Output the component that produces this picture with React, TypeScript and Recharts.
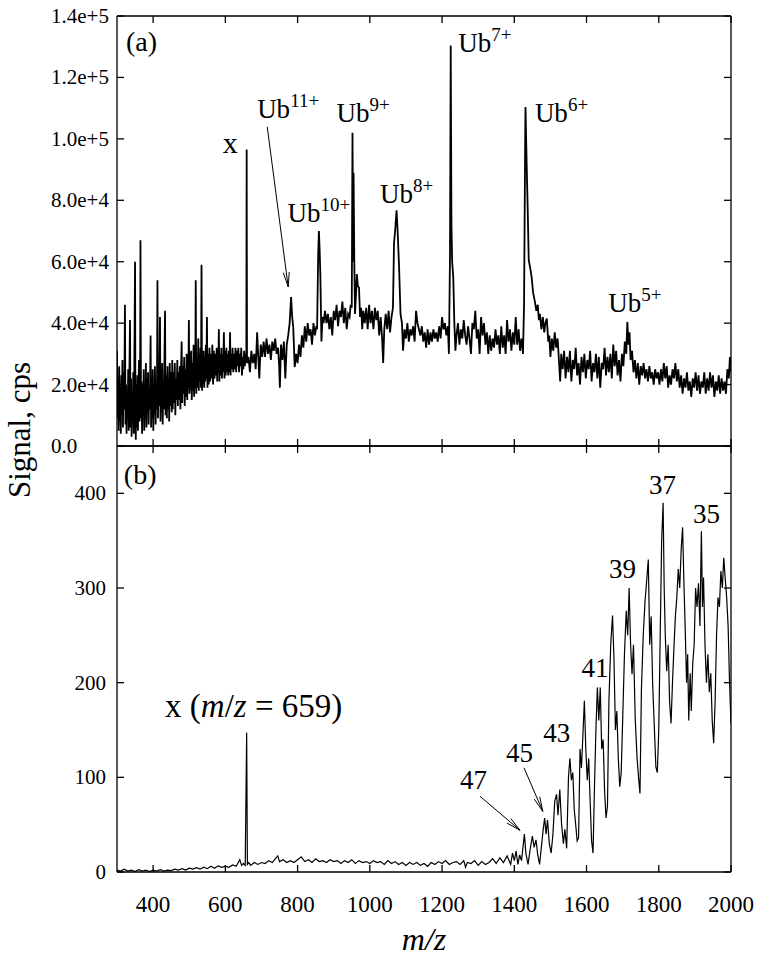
import React from 'react';
import { LineChart, Line, XAxis, YAxis, ReferenceDot, ReferenceLine } from 'recharts';

const FONT = '"Liberation Serif", "Times New Roman", Times, serif';

const mzTicks = [400, 600, 800, 1000, 1200, 1400, 1600, 1800, 2000];
const signalTicksA = [0, 20000, 40000, 60000, 80000, 100000, 120000, 140000];
const signalTicksB = [0, 100, 200, 300, 400];

// panel (a) full spectrum: [m/z, signal in cps]
const spectrumA: [number, number][] = [
  [300, 31000], [301.5, 9000], [303, 22000], [304.5, 5000], [306, 26000], [307.5, 8000], [309, 19000],
  [310.5, 4000], [312, 23000], [313.5, 10000], [315, 28000], [316.5, 6000], [318, 24000], [320, 12000],
  [322, 46000], [323.5, 7000], [325, 20000], [326.5, 4000], [328, 17000], [329.5, 9000], [331, 25000],
  [332.5, 5000], [334, 20000], [336, 41000], [337.5, 6000], [339, 22000], [340.5, 3000], [342, 18000],
  [343.5, 8000], [345, 24000], [346.5, 4000], [348, 26000], [350, 60000], [351, 12000], [352, 2000],
  [353.5, 20000], [355, 6000], [356.5, 23000], [358, 5000], [359.5, 19000], [361, 28000], [362.5, 8000],
  [364, 24000], [365, 67000], [366.5, 9000], [368, 21000], [369.5, 4000], [371, 20000], [372.5, 10000],
  [374, 25000], [375.5, 5000], [377, 16000], [378.5, 9000], [380, 27000], [381.5, 6000], [383, 22000],
  [384.5, 11000], [386, 24000], [387.5, 7000], [389, 17000], [391, 12000], [393, 36000], [394.5, 6000],
  [396, 20000], [397.5, 9000], [399, 25000], [400.5, 5000], [402, 18000], [403.5, 10000], [405, 26000],
  [407, 7000], [409, 21000], [410.5, 12000], [412, 54000], [413.5, 9000], [415, 24000], [417, 13000],
  [419, 42000], [420.5, 8000], [422, 22000], [423.5, 11000], [425, 27000], [426.5, 7000], [428, 20000],
  [429.5, 12000], [431, 25000], [433, 44000], [434.5, 10000], [436, 23000], [438, 9000], [440, 26000],
  [441.5, 12000], [443, 22000], [444.5, 8000], [446, 27000], [448, 13000], [450, 24000], [451.5, 11000],
  [453, 28000], [454.5, 12000], [456, 24000], [458, 14000], [460, 27000], [461.5, 10000], [463, 22000],
  [465, 15000], [467, 28000], [468.5, 13000], [470, 24000], [472, 15000], [474, 26000], [475.5, 12000],
  [477, 23000], [479, 34000], [480.5, 14000], [482, 26000], [484, 17000], [486, 29000], [487.5, 13000],
  [489, 25000], [491, 16000], [493, 30000], [494.5, 15000], [496, 27000], [497.5, 19000], [499, 41000],
  [500.5, 17000], [502, 28000], [503.5, 18000], [505, 31000], [507, 15000], [509, 27000], [510.5, 18000],
  [512, 33000], [513.5, 16000], [515, 29000], [516.5, 19000], [518, 54000], [519.5, 17000], [521, 29000],
  [523, 19000], [525, 35000], [526.5, 18000], [528, 30000], [529.5, 21000], [531, 32000], [532.5, 19000],
  [534, 59000], [535.5, 18000], [537, 29000], [538.5, 20000], [540, 31000], [541.5, 19000], [543, 29000],
  [544.5, 21000], [546, 33000], [547.5, 22000], [549, 42000], [550.5, 19000], [552, 30000], [554, 20000],
  [556, 32000], [558, 21000], [560, 30000], [562, 22000], [564, 33000], [566, 20000], [568, 31000],
  [570, 22000], [572, 30000], [574, 23000], [576, 32000], [577.5, 21000], [579, 31000], [580.5, 24000],
  [582, 38000], [583.5, 21000], [585, 30000], [587, 23000], [589, 32000], [590.5, 22000], [592, 30000],
  [594, 24000], [596, 37000], [597.5, 22000], [599, 31000], [601, 23000], [603, 32000], [604.5, 24000],
  [606, 30000], [608, 23000], [610, 31000], [611.5, 24000], [613, 37000], [614.5, 23000], [616, 30000],
  [618, 25000], [620, 32000], [622, 24000], [624, 30000], [626, 25000], [628, 32000], [630, 24000],
  [632, 31000], [634, 26000], [636, 32000], [638, 24000], [640, 30000], [642, 26000], [644, 32000],
  [646, 23000], [648, 29000], [650, 25000], [652, 31000], [654, 26000], [656, 30000], [658, 27000],
  [659, 96500], [660, 27000], [664, 29000], [668, 24000], [672, 31000], [676, 27000], [680, 30000],
  [684, 25000], [688, 37000], [692, 27000], [694, 22000], [698, 33000], [702, 29000], [706, 34000],
  [710, 29000], [714, 35000], [718, 30000], [722, 33000], [726, 28000], [730, 34000], [734, 31000],
  [738, 35000], [742, 30000], [746, 32000], [749, 26000], [751, 19000], [754, 33000], [758, 28000],
  [762, 34000], [766, 22000], [770, 33000], [774, 36000], [778, 40000], [782, 48500], [785, 42000],
  [788, 38700], [792, 25700], [796, 30000], [800, 27000], [804, 33000], [808, 29000], [812, 36000],
  [816, 32000], [820, 39000], [824, 34000], [828, 40000], [832, 36000], [836, 38000], [840, 33000],
  [844, 40000], [848, 36000], [852, 39000], [854, 38000], [857, 62000], [859, 70000], [861, 64000],
  [863, 56000], [866, 34000], [869, 42000], [872, 40000], [876, 44000], [880, 40000], [884, 43000],
  [888, 38000], [892, 42000], [896, 36000], [900, 44000], [904, 41000], [908, 46000], [912, 39000],
  [916, 44000], [920, 42000], [924, 47000], [928, 40000], [932, 45000], [936, 38000], [940, 43000],
  [944, 42000], [947, 46000], [950, 45000], [952, 102000], [954, 60000], [955, 89000], [957, 60000],
  [959, 43000], [962, 50000], [964, 56000], [967, 52000], [970, 51600], [973, 42000], [976, 45000],
  [979, 38000], [982, 44000], [986, 40000], [990, 45000], [994, 38000], [998, 46000], [1002, 40000],
  [1006, 44000], [1010, 38000], [1014, 45000], [1018, 41000], [1022, 44000], [1026, 36000], [1030, 42000],
  [1034, 35000], [1037, 27000], [1040, 38000], [1044, 43000], [1048, 38000], [1052, 44000], [1056, 37000],
  [1060, 42000], [1064, 45000], [1067, 66000], [1070, 70000], [1074, 76700], [1077, 70000], [1081, 58300],
  [1085, 43000], [1089, 40000], [1092, 31000], [1096, 38000], [1100, 35000], [1104, 40000], [1108, 34000],
  [1112, 38000], [1116, 36000], [1120, 39000], [1124, 34000], [1128, 44000], [1132, 40000], [1136, 38000],
  [1140, 36000], [1144, 39000], [1148, 34000], [1152, 37000], [1156, 32000], [1160, 38000], [1164, 33000],
  [1168, 37000], [1172, 34000], [1176, 38000], [1180, 35000], [1184, 37000], [1188, 34000], [1192, 39000],
  [1196, 35000], [1200, 42000], [1204, 38000], [1208, 40000], [1212, 36000], [1216, 39000], [1219, 30000],
  [1222, 62000], [1224, 130400], [1226, 72000], [1228, 60000], [1231, 55000], [1234, 40000], [1237, 31000],
  [1240, 36000], [1244, 40000], [1248, 33000], [1252, 38000], [1256, 35000], [1260, 41000], [1264, 36000],
  [1268, 33000], [1272, 39000], [1276, 35000], [1280, 30000], [1284, 40000], [1288, 38000], [1292, 44000],
  [1296, 35000], [1300, 38000], [1304, 30000], [1308, 42000], [1312, 36000], [1316, 40000], [1320, 33000],
  [1324, 37000], [1328, 30000], [1332, 36000], [1336, 31000], [1340, 35000], [1344, 32000], [1348, 38000],
  [1352, 33000], [1356, 36000], [1360, 30000], [1364, 39000], [1368, 32000], [1372, 36000], [1376, 30000],
  [1380, 41000], [1384, 34000], [1388, 38000], [1392, 31000], [1396, 37000], [1400, 33000], [1404, 42000],
  [1408, 33000], [1412, 38000], [1416, 31000], [1420, 35000], [1424, 30000], [1427, 46000], [1430, 97000],
  [1431, 110400], [1434, 93000], [1437, 77800], [1440, 60500], [1444, 58000], [1448, 55000], [1452, 50000],
  [1457, 47000], [1461, 44000], [1465, 46000], [1468, 41000], [1471, 43000], [1475, 38000], [1479, 42000],
  [1483, 37000], [1486, 40000], [1490, 41500], [1494, 34000], [1497, 36000], [1500, 29000], [1504, 35000],
  [1508, 31000], [1512, 37000], [1516, 32000], [1520, 35000], [1524, 27000], [1527, 21000], [1530, 30000],
  [1534, 25000], [1538, 31000], [1542, 22000], [1546, 29000], [1550, 24000], [1554, 31000], [1558, 21000],
  [1562, 28000], [1566, 25000], [1570, 32000], [1574, 23000], [1578, 27000], [1582, 20000], [1586, 29000],
  [1590, 24000], [1594, 30000], [1598, 22000], [1602, 28000], [1606, 25000], [1610, 31000], [1614, 21000],
  [1618, 27000], [1622, 24000], [1626, 30000], [1630, 22000], [1634, 29000], [1638, 19000], [1642, 27000],
  [1646, 25000], [1650, 32000], [1654, 23000], [1658, 29000], [1662, 24000], [1666, 30000], [1670, 22000],
  [1674, 33000], [1678, 26000], [1682, 31000], [1686, 23000], [1690, 28000], [1694, 21000], [1698, 30000],
  [1702, 26000], [1706, 34000], [1710, 30000], [1713, 40400], [1716, 33000], [1719, 37000], [1722, 28000],
  [1726, 31000], [1730, 24000], [1734, 28000], [1738, 22000], [1742, 27000], [1746, 20000], [1750, 26000],
  [1754, 23000], [1758, 27000], [1762, 22000], [1766, 25000], [1770, 21000], [1774, 26000], [1778, 22000],
  [1782, 24000], [1786, 20000], [1790, 25000], [1794, 22000], [1798, 24000], [1802, 20000], [1806, 25000],
  [1810, 21000], [1814, 27000], [1818, 22000], [1822, 26000], [1826, 19000], [1830, 23000], [1834, 20000],
  [1838, 25000], [1842, 22000], [1846, 27000], [1850, 21000], [1854, 25000], [1858, 19000], [1862, 23000],
  [1866, 17000], [1870, 22000], [1874, 19000], [1878, 24000], [1882, 18000], [1886, 21000], [1890, 16000],
  [1894, 22000], [1898, 19000], [1902, 24000], [1906, 18000], [1910, 23000], [1914, 17000], [1918, 21000],
  [1922, 19000], [1926, 24000], [1930, 17000], [1934, 22000], [1938, 18000], [1942, 24000], [1946, 19000],
  [1950, 23000], [1954, 16000], [1958, 21000], [1962, 18000], [1966, 23000], [1970, 17000], [1974, 22000],
  [1978, 18000], [1982, 21000], [1986, 17000], [1990, 25000], [1994, 22000], [1997, 29000], [2000, 24000],
];

// panel (b): [m/z, signal in cps]
const spectrumB: [number, number][] = [
  [300, 2], [310, 1], [320, 3], [330, 1], [340, 2], [350, 0.5], [360, 2.5], [370, 1], [380, 2], [390, 0.5],
  [400, 2], [410, 1], [420, 2.5], [430, 1], [440, 2], [450, 1.5], [460, 3], [470, 2], [480, 3.5], [490, 2],
  [500, 4], [510, 3], [520, 4.5], [530, 3], [540, 5], [550, 3.5], [560, 6], [570, 4], [580, 6.5], [590, 5],
  [600, 6], [610, 5], [620, 7.5], [630, 6], [640, 13], [645, 7], [650, 9], [655, 7], [659, 147], [661, 8],
  [665, 10], [670, 7], [680, 10], [690, 8], [700, 10], [710, 9], [720, 12], [730, 10], [740, 15], [745, 17],
  [750, 11], [760, 13], [770, 10], [780, 12], [790, 10], [800, 13], [810, 16], [820, 11], [830, 13], [840, 10],
  [850, 14], [860, 11], [870, 12], [880, 10], [890, 13], [900, 11], [910, 12], [920, 9], [930, 12], [940, 10],
  [950, 13], [960, 9], [970, 12], [980, 10], [990, 11], [1000, 9], [1010, 12], [1020, 10], [1030, 11], [1040, 8],
  [1050, 12], [1060, 9], [1070, 11], [1080, 8], [1090, 10], [1100, 7], [1110, 10], [1120, 8], [1130, 10],
  [1140, 7], [1150, 9], [1160, 6], [1170, 10], [1180, 8], [1190, 11], [1200, 9], [1210, 12], [1220, 8],
  [1230, 10], [1240, 11], [1250, 8], [1260, 12], [1265, 5], [1270, 10], [1280, 9], [1290, 12], [1300, 7],
  [1310, 11], [1320, 8], [1330, 10], [1340, 14], [1350, 9], [1360, 15], [1370, 10], [1380, 17], [1390, 8],
  [1395, 20], [1400, 12], [1405, 22], [1410, 8], [1415, 18], [1420, 12], [1428, 40], [1432, 20], [1438, 8],
  [1444, 24], [1450, 38], [1455, 26], [1460, 34], [1465, 18], [1470, 8], [1476, 30], [1480, 45], [1484, 57],
  [1488, 40], [1492, 55], [1497, 30], [1502, 20], [1507, 40], [1512, 75], [1517, 82], [1521, 60], [1526, 87],
  [1531, 50], [1536, 30], [1540, 45], [1545, 25], [1550, 100], [1554, 120], [1558, 97], [1562, 105], [1566, 66],
  [1570, 50], [1574, 33], [1578, 36], [1582, 130], [1586, 110], [1590, 145], [1594, 181], [1598, 130],
  [1602, 97], [1606, 120], [1610, 75], [1614, 33], [1618, 20], [1622, 90], [1626, 150], [1630, 195], [1634, 160],
  [1638, 195], [1642, 130], [1646, 140], [1650, 86], [1654, 57], [1658, 70], [1662, 180], [1667, 240],
  [1672, 271], [1676, 225], [1680, 150], [1684, 170], [1688, 120], [1692, 90], [1696, 105], [1700, 160],
  [1705, 230], [1710, 276], [1714, 250], [1718, 300], [1722, 240], [1726, 209], [1730, 240], [1735, 160],
  [1740, 120], [1744, 100], [1748, 83], [1752, 193], [1757, 250], [1762, 286], [1767, 310], [1771, 330],
  [1775, 240], [1779, 270], [1783, 200], [1787, 160], [1792, 111], [1796, 105], [1800, 150], [1804, 250],
  [1808, 350], [1812, 390], [1815, 300], [1818, 250], [1822, 212], [1826, 240], [1830, 180], [1834, 157],
  [1838, 200], [1842, 237], [1846, 270], [1850, 290], [1854, 320], [1858, 300], [1862, 340], [1866, 364],
  [1870, 300], [1873, 260], [1877, 200], [1880, 230], [1883, 160], [1887, 210], [1890, 170], [1894, 220],
  [1898, 240], [1902, 300], [1906, 280], [1910, 305], [1914, 260], [1918, 360], [1921, 280], [1924, 311],
  [1928, 240], [1932, 200], [1936, 230], [1940, 190], [1944, 210], [1948, 160], [1952, 136], [1956, 180],
  [1960, 250], [1964, 290], [1968, 280], [1972, 318], [1976, 300], [1980, 332], [1984, 310], [1988, 290],
  [1992, 260], [1996, 200], [2000, 157],
];

// text anchors (left end of baseline), in data units
const ionLabels = [
  { mz: 688, signal: 106700, charge: '11+' },
  { mz: 772, signal: 72900, charge: '10+' },
  { mz: 908, signal: 105400, charge: '9+' },
  { mz: 1028, signal: 79000, charge: '8+' },
  { mz: 1245, signal: 128300, charge: '7+' },
  { mz: 1457, signal: 105500, charge: '6+' },
  { mz: 1660, signal: 43600, charge: '5+' },
];
const chargeStates = [
  { mz: 1250, signal: 88, text: '47' },
  { mz: 1377, signal: 116, text: '45' },
  { mz: 1480, signal: 137, text: '43' },
  { mz: 1586, signal: 206, text: '41' },
  { mz: 1662, signal: 311, text: '39' },
  { mz: 1773, signal: 399, text: '37' },
  { mz: 1895, signal: 369, text: '35' },
];
const arrowsB = [
  { from: [1305, 80], to: [1416, 44] },
  { from: [1427, 110], to: [1479, 64] },
];

const dataA = spectrumA.map(([mz, signal]) => ({ mz, signal }));
const dataB = spectrumB.map(([mz, signal]) => ({ mz, signal }));

const TICK = 7;
const AXIS = { stroke: '#000', strokeWidth: 1.3 };

const fmtA = (v: number) => (v === 0 ? '0.0' : v.toExponential(1));

const bottomTick = (labels: boolean) => (p: any) => (
  <g>
    <line x1={p.x} y1={p.y} x2={p.x} y2={p.y - TICK} {...AXIS} />
    {labels && (
      <text x={p.x} y={p.y + 40} textAnchor="middle" fontFamily={FONT} fontSize={23} fill="#000">
        {p.payload.value}
      </text>
    )}
  </g>
);
const topTick = (p: any) => <line x1={p.x} y1={p.y} x2={p.x} y2={p.y + TICK} {...AXIS} />;
const rightTick = (p: any) => <line x1={p.x} y1={p.y} x2={p.x - TICK} y2={p.y} {...AXIS} />;
const leftTickA = (p: any) => (
  <g>
    <line x1={p.x} y1={p.y} x2={p.x + TICK} y2={p.y} {...AXIS} />
    <text x={p.x - 66} y={p.y} dy={7} textAnchor="start" fontFamily={FONT} fontSize={21} fill="#000">
      {fmtA(p.payload.value)}
    </text>
  </g>
);
const leftTickB = (p: any) => (
  <g>
    <line x1={p.x} y1={p.y} x2={p.x + TICK} y2={p.y} {...AXIS} />
    <text x={p.x - 11} y={p.y} dy={7} textAnchor="end" fontFamily={FONT} fontSize={21} fill="#000">
      {p.payload.value}
    </text>
  </g>
);

function Arrow(p: any) {
  const { x1, y1, x2, y2 } = p;
  const a = Math.atan2(y2 - y1, x2 - x1);
  const len = 15;
  const s = 0.2;
  const l = `${x2 - len * Math.cos(a - s)},${y2 - len * Math.sin(a - s)}`;
  const r = `${x2 - len * Math.cos(a + s)},${y2 - len * Math.sin(a + s)}`;
  return (
    <g>
      <line x1={x1} y1={y1} x2={x2} y2={y2} stroke="#000" strokeWidth={1} />
      <polyline points={`${l} ${x2},${y2} ${r}`} fill="none" stroke="#000" strokeWidth={1} />
    </g>
  );
}

const txt = (content: React.ReactNode, size: number) => (p: any) => (
  <text x={p.cx} y={p.cy} fontFamily={FONT} fontSize={size} fill="#000">
    {content}
  </text>
);

function Frame({ yTicks, yDomain, leftTick, bottomLabels }: any) {
  return [
    <XAxis key="xb" xAxisId="b" dataKey="mz" type="number" domain={[300, 2000]} ticks={mzTicks} interval={0}
      height={bottomLabels ? 93 : 10} tickSize={0} tickMargin={0} axisLine={AXIS} tickLine={false}
      tick={bottomTick(bottomLabels)} allowDataOverflow />,
    <XAxis key="xt" xAxisId="t" orientation="top" dataKey="mz" type="number" domain={[300, 2000]} ticks={mzTicks}
      interval={0} height={10} tickSize={0} tickMargin={0} axisLine={AXIS} tickLine={false} tick={topTick}
      allowDataOverflow />,
    <YAxis key="yl" yAxisId="l" type="number" domain={yDomain} ticks={yTicks} interval={0} width={117}
      tickSize={0} tickMargin={0} axisLine={AXIS} tickLine={false} tick={leftTick} allowDataOverflow />,
    <YAxis key="yr" yAxisId="r" orientation="right" type="number" domain={yDomain} ticks={yTicks} interval={0}
      width={33} tickSize={0} tickMargin={0} axisLine={AXIS} tickLine={false} tick={rightTick} allowDataOverflow />,
  ];
}

export default function App() {
  return (
    <div style={{ position: 'absolute', left: 0, top: 0, width: 764, height: 965, background: '#fff' }}>
      <div style={{ position: 'absolute', left: 0, top: 430 }}>
        <LineChart width={764} height={535} data={dataB} margin={{ top: 6, right: 0, bottom: 0, left: 0 }}>
          {Frame({ yTicks: signalTicksB, yDomain: [0, 450], leftTick: leftTickB, bottomLabels: true })}
          <Line xAxisId="b" yAxisId="l" type="linear" dataKey="signal" stroke="#000" strokeWidth={1.2}
            dot={false} isAnimationActive={false} />
          <ReferenceDot xAxisId="b" yAxisId="l" x={319} y={410} r={0} shape={txt('(b)', 28)} />
          <ReferenceDot xAxisId="b" yAxisId="l" x={433} y={164} r={0}
            shape={txt(<>x (<tspan fontStyle="italic">m</tspan>/<tspan fontStyle="italic">z</tspan> = 659)</>, 33)} />
          {chargeStates.map((d) => (
            <ReferenceDot key={d.text} xAxisId="b" yAxisId="l" x={d.mz} y={d.signal} r={0} shape={txt(d.text, 27)} />
          ))}
          {arrowsB.map((a, i) => (
            <ReferenceLine key={i} xAxisId="b" yAxisId="l"
              segment={[{ x: a.from[0], y: a.from[1] }, { x: a.to[0], y: a.to[1] }]} shape={Arrow} />
          ))}
        </LineChart>
      </div>
      <div style={{ position: 'absolute', left: 0, top: 0 }}>
        <LineChart width={764} height={476} data={dataA} margin={{ top: 6, right: 0, bottom: 20, left: 0 }}>
          {Frame({ yTicks: signalTicksA, yDomain: [0, 140000], leftTick: leftTickA, bottomLabels: false })}
          <Line xAxisId="b" yAxisId="l" type="linear" dataKey="signal" stroke="#000" strokeWidth={1.8}
            dot={false} isAnimationActive={false} />
          <ReferenceDot xAxisId="b" yAxisId="l" x={325} y={128500} r={0} shape={txt('(a)', 28)} />
          <ReferenceDot xAxisId="b" yAxisId="l" x={593} y={95500} r={0} shape={txt('x', 30)} />
          {ionLabels.map((d) => (
            <ReferenceDot key={d.charge} xAxisId="b" yAxisId="l" x={d.mz} y={d.signal} r={0}
              shape={txt(<>Ub<tspan dy={-11} fontSize={19}>{d.charge}</tspan></>, 27)} />
          ))}
          <ReferenceLine xAxisId="b" yAxisId="l" segment={[{ x: 716, y: 103900 }, { x: 774, y: 51800 }]}
            shape={Arrow} />
        </LineChart>
      </div>
      <svg width={764} height={965} style={{ position: 'absolute', left: 0, top: 0, pointerEvents: 'none' }}>
        <text transform="translate(30,430) rotate(-90)" textAnchor="middle" fontFamily={FONT} fontSize={31} fill="#000">
          Signal, cps
        </text>
        <text x={424} y={950} textAnchor="middle" fontFamily={FONT} fontSize={32} fontStyle="italic" fill="#000">
          m/z
        </text>
      </svg>
    </div>
  );
}
